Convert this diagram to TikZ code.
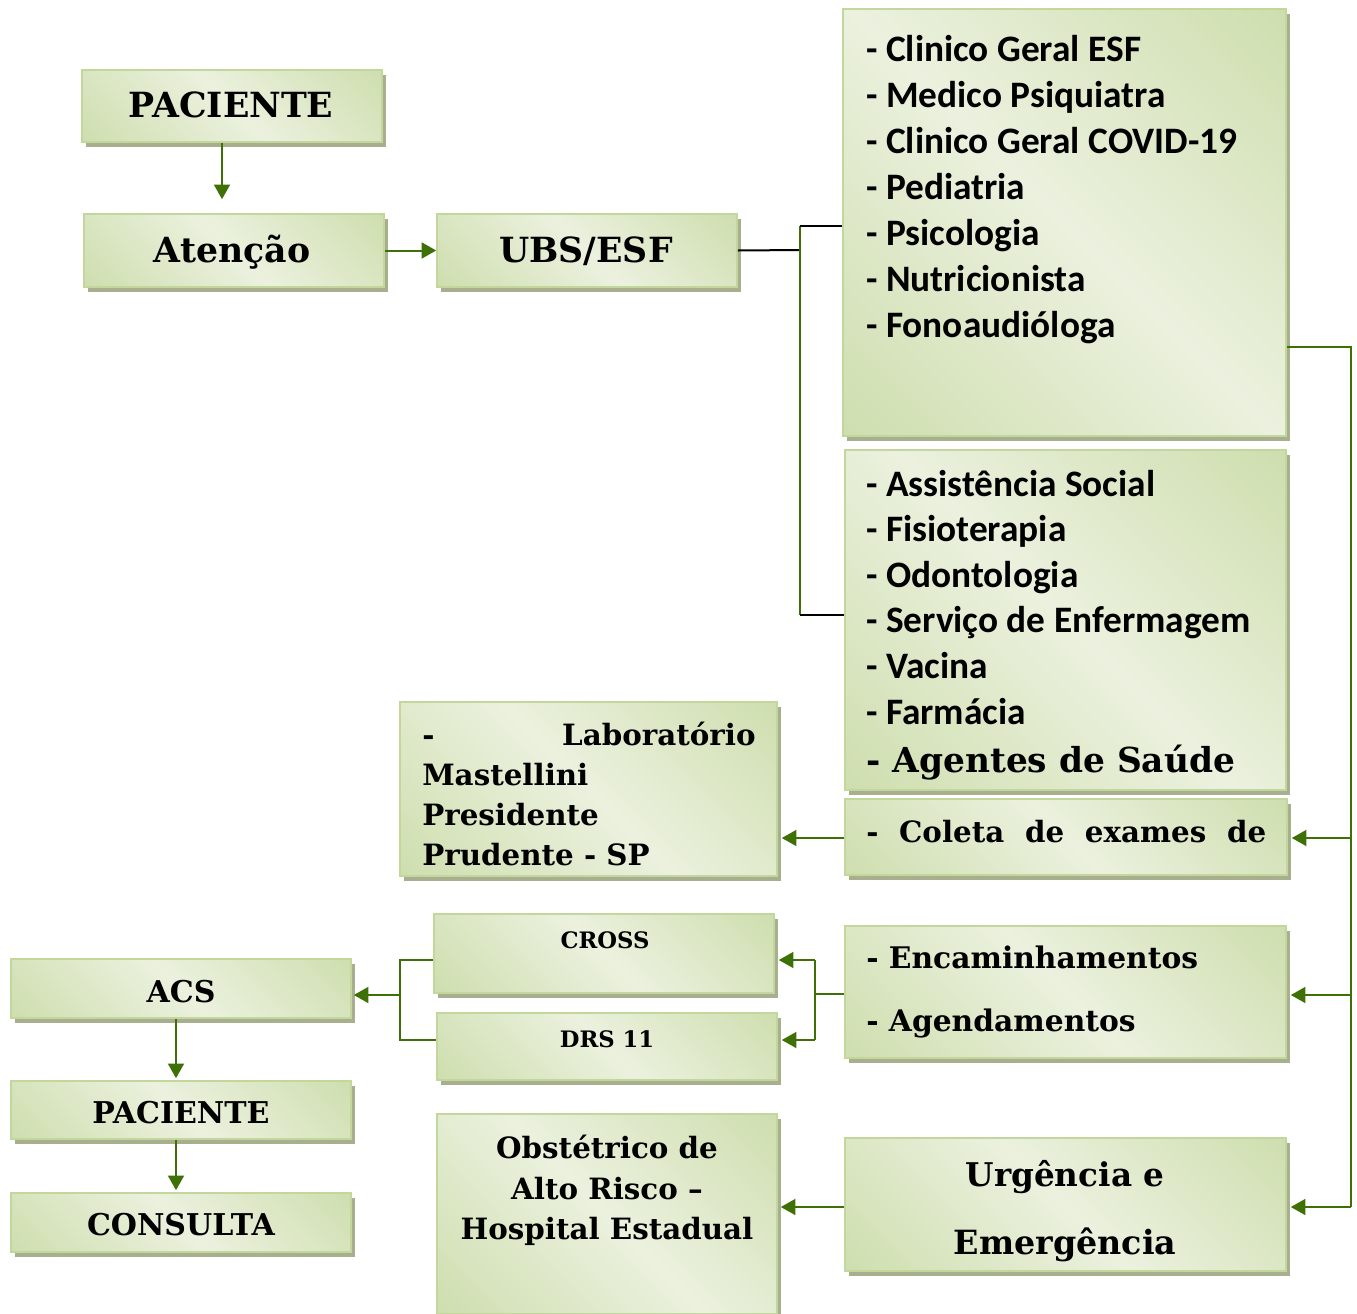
\documentclass[tikz,border=0pt]{standalone}
\usepackage{fontspec}
\setmainfont{DejaVu Serif}
\newfontfamily\calfont{Carlito}
\usetikzlibrary{arrows.meta,shadows,calc}
\definecolor{gdk}{HTML}{C3D69B}
\definecolor{glt}{HTML}{EBF1DE}
\definecolor{gbd}{HTML}{C3D69B}
\definecolor{gsh}{HTML}{A7AF8F}
\definecolor{arr}{HTML}{3E7005}
\pgfdeclarehorizontalshading{gband}{100bp}{color(0bp)=(gdk); color(50bp)=(glt); color(100bp)=(gdk)}
\begin{document}
\begin{tikzpicture}[x=0.75pt,y=-0.75pt,
  gbox/.style 2 args={draw=gbd, line width=1.2pt, shade, shading=gband, shading angle=45,
    minimum width=#1*0.75pt, minimum height=#2*0.75pt, inner sep=0pt,
    drop shadow={shadow xshift=3pt, shadow yshift=-3.75pt, fill=gsh, opacity=1}},
  st/.style={anchor=base, inner sep=0pt, font={\bfseries\fontsize{#1}{#1}\selectfont}},
  stw/.style={anchor=base west, inner sep=0pt, font={\bfseries\fontsize{#1}{#1}\selectfont}},
  calt/.style={anchor=base west, inner sep=0pt, font={\calfont\bfseries\fontsize{#1}{#1}\selectfont}},
  ln/.style={draw=arr, line width=1.5pt},
  blk/.style={draw=black, line width=1.5pt},
  arw/.style={ln, -{Triangle[length=11pt,width=12pt]}}
]
\useasboundingbox (0,0) rectangle (1357,1314);

% boxes
\node[gbox={300}{72}] (pac1) at (232,106) {};
\node[gbox={300}{73}] (aten) at (234,250.5) {};
\node[gbox={300}{73}] (ubs) at (587,250.5) {};
\node[gbox={443}{427}] (list1) at (1064.5,222.5) {};
\node[gbox={441}{340}] (list2) at (1065.5,620) {};
\node[gbox={442}{76}] (coleta) at (1066,837) {};
\node[gbox={377}{174}] (lab) at (588.5,789) {};
\node[gbox={340}{79}] (cross) at (604,953.5) {};
\node[gbox={340}{67}] (drs) at (607,1046.5) {};
\node[gbox={441}{132}] (enc) at (1065.5,992) {};
\node[gbox={340}{59}] (acs) at (181,988.5) {};
\node[gbox={340}{58}] (pac2) at (181,1110) {};
\node[gbox={340}{59}] (cons) at (181,1222.5) {};
\node[gbox={340}{200}] (obst) at (607,1214) {};
\node[gbox={441}{133}] (urg) at (1065.5,1204.5) {};

% texts
\node[st=26] (tpac1) at (231,117) {PACIENTE};
\node[st=26] (taten) at (232,262) {Atenção};
\node[st=26] (tubs) at (586,262) {UBS/ESF};
\foreach \t [count=\i from 0] in {{- Clinico Geral ESF},{- Medico Psiquiatra},{- Clinico Geral COVID-19},{- Pediatria},{- Psicologia},{- Nutricionista},{- Fonoaudióloga}}
  \node[calt=28] (la\i) at (866,61+46*\i) {\t};
\foreach \t [count=\i from 0] in {{- Assistência Social},{- Fisioterapia},{- Odontologia},{- Serviço de Enfermagem},{- Vacina},{- Farmácia}}
  \node[calt=28] (lb\i) at (866,496+45.6*\i) {\t};
\node[stw=25.8] (tage) at (866,772) {- Agentes de Saúde};
\node[stw=22] (tcol) at (866,842) {\makebox[300pt][s]{- Coleta de exames de}};
\node[stw=22] (tlab1) at (422,745) {\makebox[250pt][s]{- \hfill Laboratório}};
\node[stw=22] (tlab2) at (422,785) {Mastellini};
\node[stw=22] (tlab3) at (422,825) {Presidente};
\node[stw=22] (tlab4) at (422,865) {Prudente - SP};
\node[st=17] (tcross) at (605,948) {CROSS};
\node[st=17] (tdrs) at (607,1047) {DRS 11};
\node[stw=22.3] (tenc) at (866,968) {- Encaminhamentos};
\node[stw=22.3] (tage2) at (866,1031) {- Agendamentos};
\node[st=22.5] (tacs) at (181,1002) {ACS};
\node[st=22.5] (tpac2) at (181,1123) {PACIENTE};
\node[st=22.5] (tcons) at (181,1235) {CONSULTA};
\node[st=24.5] (turg1) at (1065,1186) {Urgência e};
\node[st=25] (turg2) at (1065,1254) {Emergência};
\node[st=22] (tob1) at (607,1158) {Obstétrico de};
\node[st=22] (tob2) at (607,1199) {Alto Risco –};
\node[st=22] (tob3) at (607,1239) {Hospital Estadual};

% junction coordinates
\coordinate (a1) at ($(pac1.south)+(-10,0)$);
\coordinate (a2) at ($(acs.south)+(-5,0)$);
\coordinate (a3) at ($(pac2.south)+(-5,0)$);
\coordinate (j1) at (800,250);
\coordinate (j1a) at (800,226);
\coordinate (j1b) at (800,615);
\coordinate (rb0) at (1351,347);
\coordinate (rb1) at (1351,838);
\coordinate (rb2) at (1351,995);
\coordinate (rb3) at (1351,1207);
\coordinate (j2) at (815,994);
\coordinate (j2a) at (815,960);
\coordinate (j2b) at (815,1040);
\coordinate (j3) at (400,995);
\coordinate (j3a) at (400,960);
\coordinate (j3b) at (400,1040);

% connectors
\draw[arw, shorten >=10.5pt] (a1) -- (a1 |- aten.north);
\draw[arw] (aten.east) -- (ubs.west);
\draw[blk] (ubs.east) -- (j1);
\draw[ln] (j1a) -- (j1b);
\draw[blk] (j1a) -- (j1a -| list1.west);
\draw[blk] (j1b) -- (j1b -| list2.west);
\draw[ln] (rb0 -| list1.east) -- (rb0) -- (rb3);
\draw[arw] (rb1) -- ($(rb1 -| coleta.east)+(4,0)$);
\draw[arw] (rb2) -- ($(rb2 -| enc.east)+(4,0)$);
\draw[arw] (rb3) -- ($(rb3 -| urg.east)+(4,0)$);
\draw[arw] (coleta.west |- rb1) -- ($(rb1 -| lab.east)+(4,0)$);
\draw[ln] (enc.west |- j2) -- (j2);
\draw[ln] (j2a) -- (j2b);
\draw[arw] (j2a) -- ($(j2a -| cross.east)+(4,0)$);
\draw[arw] (j2b) -- ($(j2b -| drs.east)+(4,0)$);
\draw[ln] (cross.west |- j3a) -- (j3a) -- (j3b) -- (drs.west |- j3b);
\draw[arw] (j3) -- ($(j3 -| acs.east)+(2,0)$);
\draw[arw, shorten >=1.5pt] (a2) -- (a2 |- pac2.north);
\draw[arw, shorten >=1.5pt] (a3) -- (a3 |- cons.north);
\draw[arw] (urg.west |- rb3) -- ($(rb3 -| obst.east)+(3,0)$);
\end{tikzpicture}
\end{document}
